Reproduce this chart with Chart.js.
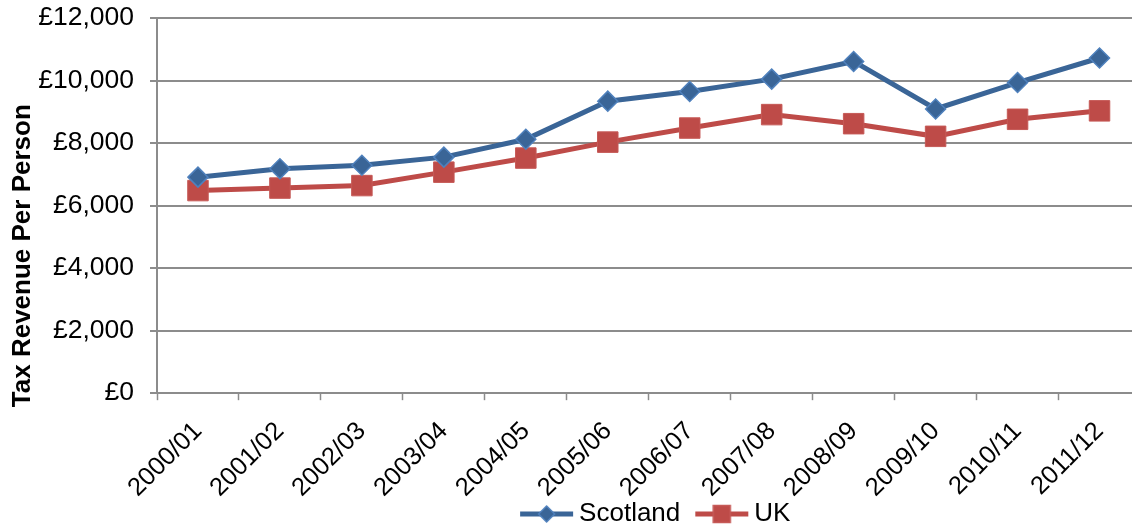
<!DOCTYPE html>
<html>
<head>
<meta charset="utf-8">
<script src="https://cdn.jsdelivr.net/npm/chart.js@4"></script>
<style>
  html, body { margin: 0; padding: 0; background: #fff; overflow: hidden; }
  #wrap { width: 1156px; height: 526px; position: relative; }
</style>
</head>
<body>
<div id="wrap"><canvas id="chart"></canvas></div>
<script>
// Tax revenue per person
const years = ['2000/01', '2001/02', '2002/03', '2003/04', '2004/05', '2005/06',
               '2006/07', '2007/08', '2008/09', '2009/10', '2010/11', '2011/12'];
const scotland = [6910, 7180, 7290, 7550, 8120, 9340, 9650, 10045, 10610, 9090, 9935, 10720];
const uk = [6480, 6560, 6640, 7070, 7520, 8030, 8480, 8910, 8620, 8215, 8760, 9030];
const yTicks = [0, 2000, 4000, 6000, 8000, 10000, 12000];
const yTitle = 'Tax Revenue Per Person';

const theme = {
    font: "'Liberation Sans', Arial, sans-serif",
    blue: '#3A6597',
    blueEdge: '#4F81BD',
    red: '#BE4B48',
    redEdge: '#C65A57',
    grid: '#8C8C8C',
    text: '#000000'
};

// legend swatch: short line with the marker in the middle.
// drawn right-shifted inside a wider canvas so the gaps match Excel's legend
function swatch(color, edge, shape) {
    const c = document.createElement('canvas');
    c.width = 75; c.height = 22;
    const g = c.getContext('2d');
    const x0 = 20, x1 = 75, mid = 47.5;
    g.strokeStyle = color;
    g.lineWidth = 5;
    g.beginPath(); g.moveTo(x0 + 1, 11); g.lineTo(x1 - 1, 11); g.stroke();
    g.fillStyle = color;
    g.strokeStyle = edge;
    g.lineWidth = 1.5;
    g.beginPath();
    if (shape === 'diamond') {
        g.moveTo(mid, 3); g.lineTo(mid + 8, 11); g.lineTo(mid, 19); g.lineTo(mid - 8, 11); g.closePath();
    } else {
        g.rect(mid - 8.5, 2.5, 17, 17);
    }
    g.fill(); g.stroke();
    return c;
}

const swatches = [swatch(theme.blue, theme.blueEdge, 'diamond'), swatch(theme.red, theme.redEdge, 'square')];

// Excel centres the legend under the plot area, not the whole canvas
const legendUnderPlot = {
    id: 'legendUnderPlot',
    beforeDraw(chart) {
        const lg = chart.legend;
        if (!lg) return;
        const shift = (chart.chartArea.left + chart.chartArea.right) / 2 - (lg.left + lg.right) / 2;
        lg.left += shift;
        lg.right += shift;
    }
};

// y axis title sits lower than centre in the original, so draw it by hand
const sideTitle = {
    id: 'sideTitle',
    afterDraw(chart) {
        const g = chart.ctx;
        const area = chart.chartArea;
        g.save();
        g.translate(22.5, area.bottom + 14);
        g.rotate(-Math.PI / 2);
        g.font = "bold 26px " + theme.font;
        g.fillStyle = theme.text;
        g.textAlign = 'left';
        g.textBaseline = 'middle';
        g.fillText(yTitle, 0, 0);
        g.restore();
    }
};

// category labels hang a bit lower under the axis than Chart.js puts them
function lowerLabels(axis) {
    if (axis._lowered) return;
    axis._lowered = true;
    const draw = axis.drawLabels;
    axis.drawLabels = function (area) {
        this.ctx.save();
        this.ctx.translate(0, 10);
        draw.call(this, area);
        this.ctx.restore();
    };
}

const ctx = document.getElementById('chart').getContext('2d');
new Chart(ctx, {
    type: 'line',
    data: {
        labels: years,
        datasets: [
            {
                label: 'Scotland',
                data: scotland,
                borderColor: theme.blue,
                backgroundColor: theme.blue,
                borderWidth: 5,
                pointStyle: 'rectRot',
                pointRadius: 10,
                pointBackgroundColor: theme.blue,
                pointBorderColor: theme.blueEdge,
                pointBorderWidth: 1.5,
                tension: 0
            },
            {
                label: 'UK',
                data: uk,
                borderColor: theme.red,
                backgroundColor: theme.red,
                borderWidth: 5,
                pointStyle: 'rect',
                pointRadius: 14.5,
                pointBackgroundColor: theme.red,
                pointBorderColor: theme.redEdge,
                pointBorderWidth: 1,
                tension: 0
            }
        ]
    },
    options: {
        responsive: true,
        maintainAspectRatio: false,
        animation: false,
        layout: { padding: { left: 0, top: 0, right: 0, bottom: -11 } },
        plugins: {
            tooltip: { enabled: false },
            legend: {
                position: 'bottom',
                labels: {
                    usePointStyle: true,
                    pointStyleWidth: 59,
                    padding: 2,
                    color: theme.text,
                    font: { family: theme.font, size: 26 },
                    generateLabels(chart) {
                        return chart.data.datasets.map((ds, i) => ({
                            text: ds.label,
                            datasetIndex: i,
                            pointStyle: swatches[i],
                            fillStyle: ds.borderColor,
                            strokeStyle: ds.borderColor,
                            lineWidth: 0,
                            fontColor: theme.text,
                            hidden: false
                        }));
                    }
                }
            }
        },
        scales: {
            x: {
                offset: true,
                afterUpdate: lowerLabels,
                grid: {
                    offset: true,
                    drawOnChartArea: false,
                    drawTicks: true,
                    tickLength: 7,
                    tickWidth: 1.5,
                    tickColor: theme.grid
                },
                border: { color: theme.grid, width: 2 },
                ticks: {
                    minRotation: 45,
                    maxRotation: 45,
                    padding: 6,
                    color: theme.text,
                    font: { family: theme.font, size: 25.5 }
                }
            },
            y: {
                min: 0,
                max: 12000,
                afterBuildTicks(axis) { axis.ticks = yTicks.map(v => ({ value: v })); },
                afterFit(axis) {
                    axis.width = 157;
                    axis.paddingTop = 18;
                    axis.paddingBottom = 14;
                },
                grid: {
                    color: theme.grid,
                    lineWidth: 2,
                    tickLength: 7,
                    tickColor: theme.grid
                },
                border: { color: theme.grid, width: 2 },
                ticks: {
                    padding: 16,
                    color: theme.text,
                    font: { family: theme.font, size: 26.5 },
                    callback: v => '£' + v.toLocaleString('en-GB')
                }
            }
        }
    },
    plugins: [legendUnderPlot, sideTitle]
});
</script>
</body>
</html>
